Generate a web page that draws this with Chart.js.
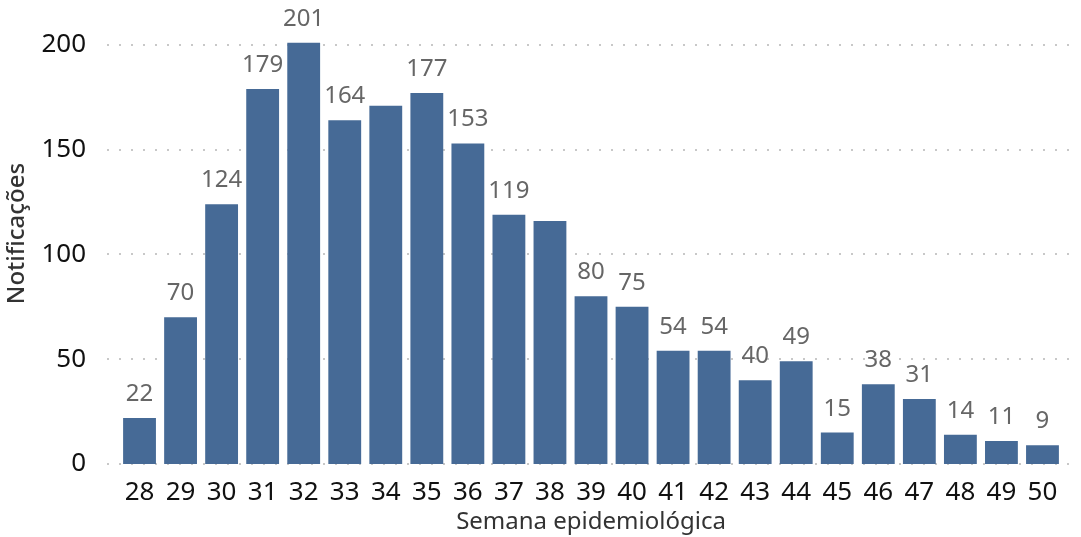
<!DOCTYPE html>
<html>
<head>
<meta charset="utf-8">
<script src="https://cdn.jsdelivr.net/npm/chart.js@4.4.1/dist/chart.umd.min.js"></script>
<style>
  html, body { margin: 0; padding: 0; background: #fff; }
  #wrap { width: 1081px; height: 537px; }
</style>
</head>
<body>
<div id="wrap"><canvas id="myChart" width="1081" height="537"></canvas></div>
<script>
const semanas = ["28","29","30","31","32","33","34","35","36","37","38","39","40","41","42","43","44","45","46","47","48","49","50"];
const notificacoes = [22, 70, 124, 179, 201, 164, 171, 177, 153, 119, 116, 80, 75, 54, 54, 40, 49, 15, 38, 31, 14, 11, 9];
// labels the original leaves out (no room next to the taller neighbours)
const semRotulo = ["34", "38"];
const yTicks = [0, 50, 100, 150, 200];

const barColor = "rgb(70, 106, 150)";
const fontFamily = "'Noto Sans', 'Open Sans', sans-serif";

const dottedGrid = {
    id: "dottedGrid",
    beforeDatasetsDraw(chart) {
        const { ctx, chartArea, scales } = chart;
        ctx.save();
        ctx.strokeStyle = "rgb(200, 200, 200)";
        ctx.lineWidth = 2;
        ctx.setLineDash([2, 10]);
        yTicks.forEach((v) => {
            const y = Math.round(scales.y.getPixelForValue(v));
            ctx.beginPath();
            ctx.moveTo(chartArea.left - 12, y);
            ctx.lineTo(chartArea.right + 12, y);
            ctx.stroke();
        });
        ctx.restore();
    }
};

const barLabels = {
    id: "barLabels",
    afterDatasetsDraw(chart) {
        const { ctx } = chart;
        const meta = chart.getDatasetMeta(0);
        ctx.save();
        ctx.font = "24px " + fontFamily;
        ctx.fillStyle = "rgb(102, 102, 102)";
        ctx.textAlign = "center";
        ctx.textBaseline = "alphabetic";
        meta.data.forEach((bar, i) => {
            if (semRotulo.includes(semanas[i])) return;
            ctx.fillText(notificacoes[i], bar.x, bar.y - 17);
        });
        ctx.restore();
    }
};

const graphics = document.getElementById("myChart");

const config = {
    type: "bar",
    data: {
        labels: semanas,
        datasets: [{
            data: notificacoes,
            backgroundColor: barColor,
            categoryPercentage: 1,
            barPercentage: 0.8
        }]
    },
    options: {
        responsive: false,
        animation: false,
        layout: { padding: { top: 3, right: 18, bottom: 0, left: 0 } },
        plugins: { legend: { display: false }, tooltip: { enabled: false } },
        scales: {
            x: {
                grid: { display: false, drawTicks: false },
                border: { display: false },
                ticks: { color: "#111", font: { family: fontFamily, size: 26 }, padding: 13, maxRotation: 0 },
                title: {
                    display: true,
                    text: "Semana epidemiológica",
                    color: "#333",
                    font: { family: fontFamily, size: 24 },
                    padding: { top: 0, bottom: 0 }
                },
                afterFit: (scale) => { scale.height = 73; }
            },
            y: {
                min: 0,
                max: 220,
                grid: { display: false, drawTicks: false },
                border: { display: false },
                ticks: { stepSize: 50, color: "#111", font: { family: fontFamily, size: 26 }, padding: 33 },
                afterBuildTicks: (scale) => {
                    scale.ticks = yTicks.map((v) => ({ value: v }));
                },
                title: {
                    display: true,
                    text: "Notificações",
                    color: "#333",
                    font: { family: fontFamily, size: 24, weight: "500" },
                    padding: { top: 3, bottom: 0 }
                },
                afterFit: (scale) => {
                    scale.width = 119;
                    scale.paddingTop = 0;
                    scale.paddingBottom = 0;
                }
            }
        }
    },
    plugins: [dottedGrid, barLabels]
};

new Chart(graphics, config);
</script>
</body>
</html>
